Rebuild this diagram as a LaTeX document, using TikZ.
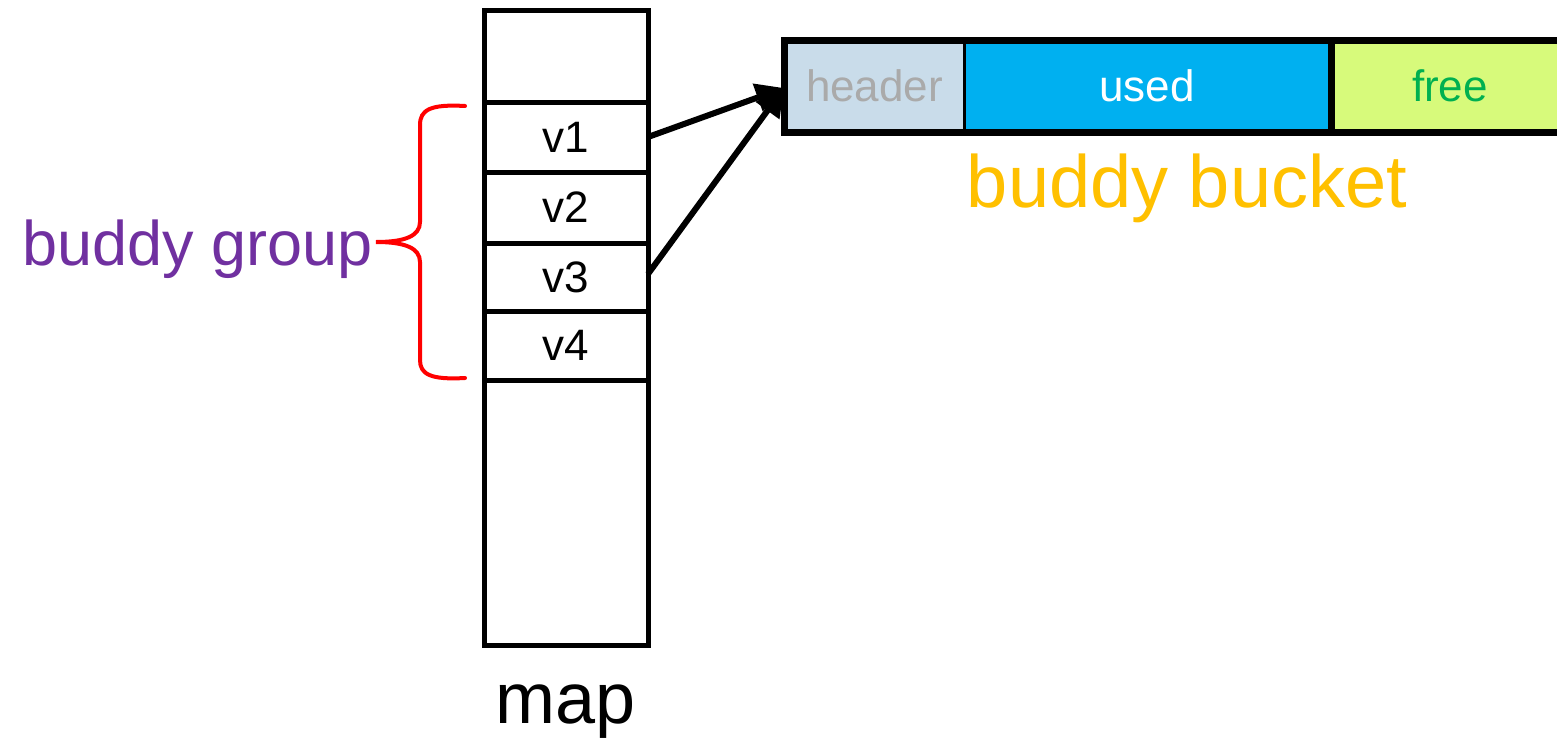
\documentclass[tikz,border=0pt]{standalone}
\usepackage{fontspec}
\setmainfont{Liberation Sans}
\usetikzlibrary{arrows.meta}
\definecolor{grpPurple}{HTML}{7030A0}
\definecolor{bktOrange}{HTML}{FFC000}
\definecolor{hdrFill}{HTML}{C9DCEA}
\definecolor{hdrText}{HTML}{AAAAAA}
\definecolor{usedFill}{HTML}{00B0F0}
\definecolor{freeFill}{HTML}{D7FA7B}
\definecolor{freeText}{HTML}{00B050}
\tikzset{
  cell/.style={draw=black, line width=2.5pt, fill=white, minimum width=82pt,
    inner sep=0pt, outer sep=0pt, font=\fontsize{22}{26}\selectfont},
  part/.style={inner sep=0pt, outer sep=0pt, minimum height=46pt,
    font=\fontsize{22}{26}\selectfont},
  ptr/.style={line width=3pt, -{Triangle[length=14pt,width=14pt]}}
}
\begin{document}
\begin{tikzpicture}[x=0.5pt,y=-0.5pt]
\useasboundingbox (0,0) rectangle (1557,739);
% map column
\node[cell, minimum height=46pt] (top) at (566,56) {};
\node[cell, minimum height=35pt] (v1) at (566,137) {\raisebox{-1.5pt}{v1}};
\node[cell, minimum height=35.5pt] (v2) at (566,207.5) {\raisebox{-1.5pt}{v2}};
\node[cell, minimum height=34pt] (v3) at (566,277) {\raisebox{-1.5pt}{v3}};
\node[cell, minimum height=34.5pt] (v4) at (566,345.5) {\raisebox{-1.5pt}{v4}};
\node[cell, minimum height=132.5pt] (rest) at (566,512.5) {};
\node[font=\fontsize{36}{40}\selectfont, anchor=base] (maplbl) at (566,723) {map};
% buddy bucket
\node[part, fill=hdrFill, text=hdrText, minimum width=90.5pt] (header) at (874.5,86) {\raisebox{-1pt}{header}};
\node[part, fill=usedFill, text=white, minimum width=182pt] (used) at (1147,86) {\raisebox{-1pt}{used}};
\node[part, fill=freeFill, text=freeText, minimum width=120pt] (free) at (1450,86) {\raisebox{-1pt}{free}};
\draw[line width=3.5pt] (784,40) rectangle (1600,132);
\draw[line width=1.2pt] (964.5,40) -- (964.5,132);
\draw[line width=3.5pt] (1331,40) -- (1331,132);
\node[text=bktOrange, font=\fontsize{37}{42}\selectfont, anchor=base] (bktlbl) at (1187,207) {buddy bucket};
% pointers into the bucket
\coordinate (entry) at (784,88);
\draw[ptr] (v1.east) -- (entry);
\draw[ptr] ([yshift=1.5pt]v3.east) -- (entry);
% buddy group brace
\coordinate (bt) at (465,106);
\coordinate (bb) at (465,378);
\coordinate (tip) at (376,242);
\draw[red, line width=2pt, line cap=round]
  (bt) .. controls (430,104) and (420,110) .. (420,125)
  -- (420,222) .. controls (420,236) and (405,242) .. (tip)
  .. controls (405,242) and (420,248) .. (420,262)
  -- (420,360) .. controls (420,374) and (430,380) .. (bb);
\node[text=grpPurple, font=\fontsize{31.5}{36}\selectfont, anchor=base east, inner sep=0pt] (grplbl) at (373,265) {buddy group};
\end{tikzpicture}
\end{document}
